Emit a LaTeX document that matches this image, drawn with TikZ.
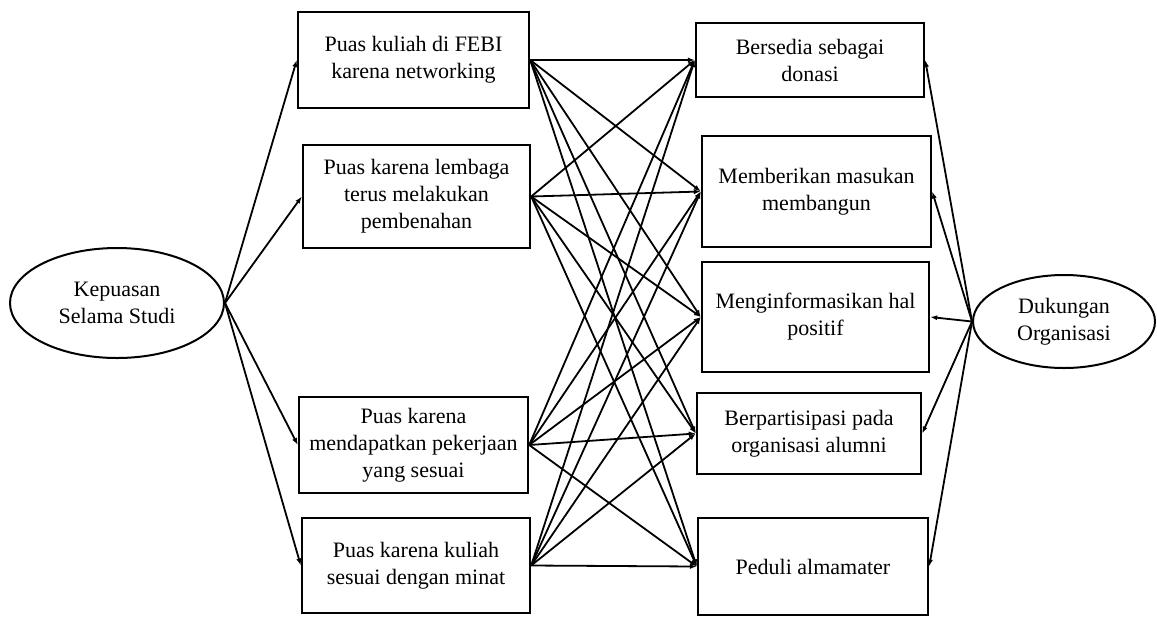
\documentclass[tikz,border=0pt]{standalone}
\usepackage{fontspec}
\setmainfont{Liberation Serif}
\usepackage{tikz}
\usetikzlibrary{arrows.meta,positioning,shapes.geometric}

\begin{document}
\begin{tikzpicture}[x=0.5pt,y=-0.5pt,
    box/.style={draw, line width=1.2pt, align=center, inner sep=2pt, font=\fontsize{11}{13.5}\selectfont},
    oval/.style={draw, ellipse, line width=1pt, align=center, inner sep=0pt, font=\fontsize{11}{13.5}\selectfont},
    arr/.style={-{Latex[length=3.5pt,width=2.6pt]}, line width=0.9pt}]
        \useasboundingbox (0,0) rectangle (1157,618);
        % latent variables
        \node[oval, minimum width=107pt, minimum height=55pt] (kep) at (117,303) {Kepuasan\\Selama Studi};
        \node[oval, minimum width=91pt, minimum height=46.5pt] (duk) at (1064,321.5) {Dukungan\\Organisasi};
        % indicators, left side
        \node[box, minimum width=115.5pt, minimum height=48pt] (l1) at (413.5,60) {Puas kuliah di FEBI\\karena networking};
        \node[box, minimum width=113.5pt, minimum height=51.5pt] (l2) at (416.5,196.5) {Puas karena lembaga\\terus melakukan\\pembenahan};
        \node[box, minimum width=114.5pt, minimum height=48pt] (l3) at (413.5,445) {Puas karena\\mendapatkan pekerjaan\\yang sesuai};
        \node[box, minimum width=114pt, minimum height=47.5pt] (l4) at (416,565.5) {Puas karena kuliah\\sesuai dengan minat};
        % indicators, right side
        \node[box, minimum width=114pt, minimum height=37pt] (r1) at (810,60) {Bersedia sebagai\\donasi};
        \node[box, minimum width=114.5pt, minimum height=55.5pt] (r2) at (816.5,191.5) {Memberikan masukan\\membangun};
        \node[box, minimum width=113.5pt, minimum height=55pt] (r3) at (815.5,317) {Menginformasikan hal\\positif};
        \node[box, minimum width=112pt, minimum height=40.5pt] (r4) at (809,433.5) {Berpartisipasi pada\\organisasi alumni};
        \node[box, minimum width=115pt, minimum height=48.5pt] (r5) at (813,566.5) {Peduli almamater};
        % loadings
        \draw[arr] (kep.east)--(l1.west); \draw[arr] (kep.east)--(l2.west);
        \draw[arr] (kep.east)--(l3.west); \draw[arr] (kep.east)--(l4.west);
        \draw[arr] (duk.west)--(r1.east); \draw[arr] (duk.west)--(r2.east); \draw[arr] (duk.west)--(r3.east);
        \draw[arr] (duk.west)--(r4.east); \draw[arr] (duk.west)--(r5.east);
        % cross links
        \draw[arr] (l1.east)--(r1.west); \draw[arr] (l1.east)--(r2.west); \draw[arr] (l1.east)--(r3.west); \draw[arr] (l1.east)--(r4.west); \draw[arr] (l1.east)--(r5.west);
        \draw[arr] (l2.east)--(r1.west); \draw[arr] (l2.east)--(r2.west); \draw[arr] (l2.east)--(r3.west); \draw[arr] (l2.east)--(r4.west); \draw[arr] (l2.east)--(r5.west);
        \draw[arr] (l3.east)--(r1.west); \draw[arr] (l3.east)--(r2.west); \draw[arr] (l3.east)--(r3.west); \draw[arr] (l3.east)--(r4.west); \draw[arr] (l3.east)--(r5.west);
        \draw[arr] (l4.east)--(r1.west); \draw[arr] (l4.east)--(r2.west); \draw[arr] (l4.east)--(r3.west); \draw[arr] (l4.east)--(r4.west); \draw[arr] (l4.east)--(r5.west);
      \end{tikzpicture}
\end{document}
